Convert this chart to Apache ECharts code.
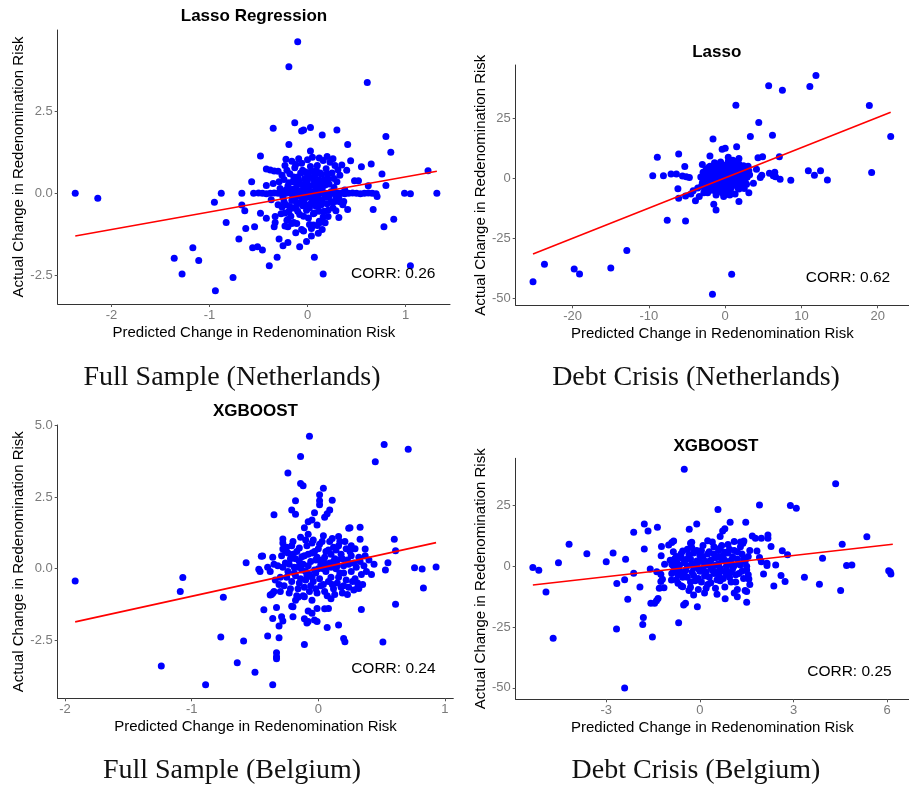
<!DOCTYPE html>
<html>
<head>
<meta charset="utf-8">
<script src="https://cdn.jsdelivr.net/npm/echarts@6/dist/echarts.min.js"></script>
<style>
  html, body { margin: 0; padding: 0; background: #ffffff; }
  #chart { width: 909px; height: 791px; }
</style>
</head>
<body>
<div id="chart"></div>
<script>
// ---------- Netherlands, full sample (Lasso Regression) ----------
const nlFullPoints = [
  [-2.37,0.00],[-2.14,-0.15],[-0.10,4.62],[-0.19,3.86],[0.61,3.38],[-0.13,2.15],[-0.35,1.98],[-0.06,1.90],
  [-0.04,1.93],[0.03,2.01],[0.15,1.78],[0.30,1.93],[0.80,1.73],[-0.19,1.49],[0.03,1.29],[0.41,1.49],
  [0.85,1.25],[-0.48,1.14],[-0.22,1.04],[0.44,0.99],[0.65,0.89],[0.55,0.81],[0.35,0.86],[-0.42,0.74],
  [-0.38,0.71],[-0.34,0.68],[-0.30,0.67],[1.23,0.69],[0.76,0.59],[-0.57,0.35],[-0.42,0.24],[0.48,0.38],
  [0.52,0.38],[0.80,0.24],[0.62,0.23],[-0.88,0.00],[-0.67,0.00],[0.99,0.00],[1.05,-0.01],[1.32,0.00],
  [-0.95,-0.27],[-0.67,-0.36],[-0.64,-0.53],[-0.48,-0.61],[-0.83,-0.89],[-0.63,-1.07],[-0.54,-1.02],[-0.70,-1.39],
  [-0.56,-1.66],[-0.51,-1.63],[-0.46,-1.73],[-1.17,-1.66],[-1.36,-1.98],[-1.11,-2.05],[-1.28,-2.46],[-0.94,-2.97],
  [-0.76,-2.57],[-0.39,-2.21],[-0.31,-1.95],[-0.29,-1.39],[-0.25,-1.60],[-0.20,-1.50],[-0.08,-1.63],[-0.01,-1.47],
  [0.04,-1.30],[0.11,-1.22],[0.15,-1.10],[0.07,-1.95],[0.16,-2.46],[1.05,-2.21],[0.78,-1.02],[0.88,-0.79],
  [0.67,-0.49],[0.41,-0.49],[0.32,-0.74],[0.21,-0.71],[0.29,-0.53],[-0.33,-0.71],[-0.33,-0.89],[-0.34,-1.02],
  [-0.42,-0.76],[-0.20,-0.80],[-0.14,-0.89],[-0.20,-1.02],[-0.12,-1.20],[-0.06,-1.10],[-0.04,-1.15],[0.71,-0.10],
  [-0.16,-0.92],[-0.23,-1.00],[0.04,-1.07],[0.06,-0.97],[0.13,-0.89],
  // observations with no change
  [-0.55,0.00],[-0.50,0.01],[-0.46,0.00],[-0.42,-0.01],[-0.38,0.00],[-0.34,0.01],[-0.30,0.00],[-0.26,-0.01],
  [-0.22,0.00],[-0.18,0.01],[-0.14,0.00],[-0.10,-0.01],[-0.06,0.00],[-0.02,0.01],[0.02,0.00],[0.06,-0.01],
  [0.10,0.00],[0.14,0.01],[0.18,0.00],[0.22,-0.01],[0.26,0.00],[0.30,0.01],[0.34,0.00],[0.38,-0.01],
  [0.42,0.00],[0.46,0.01],[0.50,0.00],[0.54,-0.01],[0.58,0.00],[0.62,0.01],[0.66,0.00],[0.70,-0.01],
  [0.24,-0.25],[0.28,-0.25],[0.33,-0.26],[0.37,-0.25],
  // central cloud
  [-0.28,0.15],[-0.25,-0.12],[-0.24,0.42],[-0.22,-0.35],[-0.20,0.22],[-0.19,-0.55],[-0.18,0.60],[-0.17,0.05],
  [-0.16,-0.22],[-0.15,0.35],[-0.14,-0.45],[-0.13,0.78],[-0.12,0.12],[-0.11,-0.30],[-0.10,0.50],[-0.09,-0.08],
  [-0.08,-0.65],[-0.07,0.28],[-0.06,0.92],[-0.05,-0.38],[-0.04,0.15],[-0.03,-0.18],[-0.02,0.65],[-0.01,-0.52],
  [0.00,0.38],[0.00,-0.05],[0.01,-0.75],[0.02,0.22],[0.03,0.82],[0.04,-0.28],[0.05,0.48],[0.06,-0.12],
  [0.07,-0.60],[0.08,0.10],[0.09,0.70],[0.10,-0.40],[0.11,0.32],[0.12,-0.85],[0.13,0.05],[0.14,0.58],
  [0.15,-0.20],[0.16,1.00],[0.17,-0.55],[0.18,0.25],[0.19,0.75],[0.20,-0.32],[0.21,0.45],[0.22,-0.08],
  [0.23,0.95],[0.25,0.62],[0.26,-0.45],[0.27,0.18],[0.28,0.85],[0.30,0.35],[0.32,-0.15],[0.33,0.55],
  [-0.27,-0.62],[-0.23,0.85],[-0.16,0.98],[-0.09,1.05],[0.00,1.02],[0.05,1.10],[0.12,1.08],[0.20,1.12],
  [0.26,1.05],[-0.30,-0.35],[-0.26,0.55],[-0.21,-0.82],[-0.11,-0.92],[0.02,-0.95],[0.10,-0.98],[0.18,-0.90],
  [-0.35,0.30],[-0.37,-0.20],[0.38,0.10],[0.40,0.70],[0.36,-0.35],[-0.05,0.70],[0.08,0.55],[-0.15,-0.10],
  [0.18,-0.05],[0.12,0.40],[-0.02,0.30],[0.06,0.25],
  [-0.24,-0.25],[-0.22,0.10],[-0.21,0.70],[-0.19,0.32],[-0.18,-0.40],[-0.17,-0.70],[-0.15,0.12],[-0.14,0.50],
  [-0.13,-0.20],[-0.12,0.88],[-0.11,0.25],[-0.10,-0.55],[-0.09,0.38],[-0.08,-0.30],[-0.07,0.62],[-0.06,-0.15],
  [-0.05,0.05],[-0.04,-0.70],[-0.03,0.45],[-0.02,-0.35],[-0.01,0.12],[0.01,0.55],[0.02,-0.45],[0.03,0.05],
  [0.04,0.68],[0.05,-0.20],[0.06,-0.62],[0.07,0.38],[0.08,-0.38],[0.09,0.15],[0.10,0.85],[0.11,-0.15],
  [0.12,-0.55],[0.13,0.62],[0.14,-0.35],[0.15,0.15],[0.16,-0.72],[0.17,0.42],[0.19,-0.12],[0.20,0.60],
  [0.21,-0.52],[0.22,0.28],[0.24,0.05],[0.25,-0.28],[0.27,0.45],[0.29,-0.10],[0.31,0.72],[-0.29,0.35],
  [-0.26,-0.42],[-0.23,-0.60],[0.00,0.18],[0.03,-0.12],[-0.07,0.08],[0.09,-0.22],[0.14,0.25],[-0.12,-0.45]
];
const nlFullFit = [[-2.37,-1.30],[1.32,0.67]];
const nlFullXTicks = [-2, -1, 0, 1];
const nlFullYTicks = [-2.5, 0, 2.5];

// ---------- Netherlands, debt crisis (Lasso) ----------
const nlCrisisPoints = [
  [-25.2,-43.1],[-23.7,-35.8],[-19.8,-37.8],[-19.1,-39.9],[-15.0,-37.4],[-12.9,-30.1],[0.85,-40.0],[-1.67,-48.3],
  [-7.6,-17.5],[-5.2,-17.8],[11.9,42.8],[11.1,38.2],[5.7,38.6],[7.5,36.7],[1.4,30.4],[18.9,30.3],
  [21.7,17.4],[19.2,2.4],[4.4,23.2],[6.2,17.9],[3.3,17.4],[-1.6,16.4],[1.5,13.1],[-0.4,12.1],
  [0.0,12.5],[-6.1,10.1],[-8.9,8.8],[-2.0,9.3],[-1.4,6.5],[-3.0,5.8],[-5.3,4.9],[1.8,8.3],
  [4.3,8.6],[4.9,9.0],[7.1,9.0],[-9.5,1.1],[-8.1,1.1],[-7.1,1.8],[-6.4,1.8],[-5.6,1.0],
  [-4.7,0.3],[-6.2,-4.4],[-6.1,-8.3],[-5.2,-7.4],[-3.9,-9.3],[-3.4,-7.6],[-1.5,-10.8],[-1.2,-13.2],
  [1.8,-9.7],[-0.2,-7.6],[2.5,-4.2],[3.1,-6.0],[3.7,-2.1],[4.6,0.3],[4.8,1.25],[5.8,2.1],
  [6.3,1.1],[6.5,2.5],[6.6,0.7],[7.2,-0.4],[8.6,-0.8],[10.9,3.2],[11.7,1.25],[12.5,3.2],
  [13.4,-0.7],[4.1,3.75],[3.0,2.1],[-5.1,0.7],[-4.5,-6.5],[-4.2,-5.2],[-3.6,-4.0],[-2.8,-6.0],
  [-2.5,-3.5],[0.4,8.8],
  // central cloud
  [-3.2,0.5],[-3.0,-2.0],[-2.9,2.5],[-2.7,-4.5],[-2.6,0.0],[-2.5,3.8],[-2.4,-1.2],[-2.3,-6.0],
  [-2.2,1.5],[-2.1,-3.0],[-2.0,5.0],[-1.9,-0.5],[-1.8,2.8],[-1.7,-5.0],[-1.6,-1.8],[-1.5,0.8],
  [-1.4,4.0],[-1.3,-3.5],[-1.2,-7.0],[-1.1,1.8],[-1.0,-0.8],[-0.9,3.2],[-0.8,-2.5],[-0.7,6.2],
  [-0.6,-4.8],[-0.5,0.4],[-0.4,2.2],[-0.3,-1.5],[-0.2,4.5],[-0.1,-3.0],[0.0,1.0],[0.1,-5.5],
  [0.2,3.0],[0.3,-0.5],[0.4,7.0],[0.5,-2.0],[0.6,1.8],[0.7,4.2],[0.8,-3.8],[0.9,0.5],
  [1.0,2.5],[1.1,-1.2],[1.2,5.5],[1.3,-6.5],[1.4,1.2],[1.5,3.5],[1.6,-2.8],[1.7,0.2],
  [1.8,6.0],[1.9,-0.8],[2.0,2.0],[2.2,4.0],[2.3,-1.5],[2.5,0.8],[2.6,3.0],[2.8,-2.5],
  [3.0,5.0],[3.2,1.5],[-2.8,-0.8],[-1.2,2.2],[-0.4,-6.0],[0.6,-7.0],[1.0,7.5],[-0.9,0.2],
  [0.2,-1.8],[-1.6,1.0],[1.8,-4.5],[-0.2,1.8],[0.9,-1.0],[-2.2,-1.8],[2.7,1.8],
  [-2.9,-1.0],[-2.6,1.8],[-2.4,-3.8],[-2.1,0.6],[-1.9,3.5],[-1.8,-2.2],[-1.5,-4.2],[-1.4,2.6],
  [-1.3,-0.2],[-1.1,4.8],[-1.0,-2.0],[-0.9,-5.2],[-0.8,1.2],[-0.7,-1.0],[-0.6,3.6],[-0.5,-3.2],
  [-0.4,0.5],[-0.3,5.5],[-0.2,-0.8],[-0.1,2.8],[0.0,-2.2],[0.1,0.2],[0.2,5.0],[0.3,-3.8],
  [0.4,1.5],[0.5,3.8],[0.6,-1.0],[0.7,-4.5],[0.8,2.2],[0.9,6.0],[1.0,-0.2],[1.1,3.2],
  [1.2,-2.8],[1.3,1.5],[1.4,4.5],[1.5,-1.0],[1.6,2.4],[1.7,-4.0],[1.9,1.0],[2.1,-0.5],
  [2.2,2.8],[2.4,5.2],[2.6,-1.2],[2.9,0.5],[3.1,3.2],[-3.1,-3.2],[-2.2,4.5],[0.4,-6.5],
  [-0.6,6.8],[1.4,7.0],[2.0,-3.2],[-1.0,1.2],[0.2,1.8],[0.8,0.0],[-0.2,-4.5],[1.2,0.8]
];
const nlCrisisFit = [[-25.2,-31.5],[21.7,27.5]];
const nlCrisisXTicks = [-20, -10, 0, 10, 20];
const nlCrisisYTicks = [-50, -25, 0, 25];

// ---------- Belgium, full sample (XGBOOST) ----------
const beFullPoints = [
  [-1.92,-0.43],[-1.07,-0.31],[-1.09,-0.80],[-0.75,-1.00],[-1.24,-3.40],[-0.89,-4.06],[-0.64,-3.29],[-0.50,-3.62],
  [-0.36,-4.06],[-0.77,-2.39],[-0.59,-2.53],[-0.40,-2.35],[-0.31,-2.41],[-0.33,-2.94],[-0.33,-3.08],[-0.33,-3.15],
  [-0.57,0.21],[-0.45,0.43],[-0.07,4.63],[-0.14,3.92],[-0.24,3.34],[-0.14,2.98],[-0.12,2.90],[0.04,2.81],
  [0.01,2.58],[0.01,2.37],[0.01,2.23],[0.11,2.39],[-0.18,2.37],[-0.35,1.88],[-0.21,2.05],[-0.18,1.90],
  [0.45,3.74],[0.52,4.34],[0.71,4.17],[0.25,1.43],[0.33,1.45],[0.33,1.03],[0.37,0.69],[0.60,1.03],
  [0.61,0.63],[0.55,0.21],[0.53,-0.05],[0.76,0.03],[0.82,-0.01],[0.93,0.06],[0.83,-0.68],[0.61,-1.24],
  [0.51,-2.56],[0.32,-0.69],[0.31,-0.67],[0.34,-1.43],[0.16,-1.97],[0.20,-2.44],[0.21,-2.55],[0.07,-2.06],
  [-0.11,-2.65],[0.08,-1.39],[0.05,-1.40],[-0.03,-1.79],[-0.05,-1.56],[-0.08,-1.48],[-0.11,-1.75],[-0.09,-1.90],
  [-0.20,-1.68],[-0.20,-1.33],[-0.28,-1.83],[-0.31,-2.00],[-0.33,-1.36],[-0.43,-1.44],[-0.37,-0.90],[-0.35,-0.80],
  [-0.28,1.04],[-0.28,0.69],[-0.08,1.64],[-0.05,1.70],[-0.11,1.43],[0.05,1.80],[0.09,2.05],[0.07,1.92],
  [-0.03,1.95],[-0.01,1.53],[0.24,1.41],[-0.47,-0.02],[-0.46,-0.10],[-0.44,0.44],[-0.36,-0.86],[-0.38,-0.92],
  [-0.36,-1.74],[-0.29,-1.68],[-0.01,-1.39],[-0.01,-1.85],[-0.08,-1.85],[-0.21,-1.31],[-0.18,-1.10],[-0.11,-0.98],
  // central cloud
  [-0.32,0.10],[-0.30,-0.30],[-0.29,0.45],[-0.27,-0.60],[-0.26,0.20],[-0.25,0.75],[-0.24,-0.10],[-0.23,-0.85],
  [-0.22,0.35],[-0.21,-0.45],[-0.20,0.95],[-0.19,0.05],[-0.18,-0.25],[-0.17,0.60],[-0.16,-0.70],[-0.15,0.25],
  [-0.14,1.10],[-0.13,-0.05],[-0.12,-0.95],[-0.11,0.45],[-0.10,-0.40],[-0.09,0.80],[-0.08,0.10],[-0.07,-0.20],
  [-0.06,-0.60],[-0.05,0.55],[-0.04,1.00],[-0.03,-0.05],[-0.02,0.30],[-0.01,-0.85],[0.00,0.70],[0.01,-0.35],
  [0.02,0.15],[0.03,0.95],[0.04,-0.55],[0.05,0.40],[0.06,-0.10],[0.07,-0.95],[0.08,0.65],[0.09,0.20],
  [0.10,-0.30],[0.11,1.05],[0.12,-0.70],[0.13,0.35],[0.14,0.00],[0.15,-0.50],[0.16,0.80],[0.17,-0.15],
  [0.18,0.50],[0.19,-0.85],[0.20,0.10],[0.21,0.95],[0.22,-0.40],[0.23,0.30],[0.24,-0.65],[0.25,0.60],
  [0.26,-0.10],[0.28,0.20],[0.29,-0.35],[0.30,0.05],[0.32,0.40],[0.34,-0.20],[0.36,0.10],[0.38,-0.10],
  [0.40,0.30],[-0.35,0.15],[-0.38,-0.10],[-0.40,0.05],[-0.20,0.50],[0.00,0.00],[0.05,0.20],[-0.10,-0.10],
  [0.10,0.50],[-0.05,-0.30],[0.15,0.30],[-0.15,-0.50],[0.20,-0.60],[0.12,0.75],[-0.02,-0.70],[-0.24,0.55],
  [0.26,0.80],[0.28,-0.75],[-0.30,-0.80],[-0.28,0.90],[0.04,1.15],[-0.08,1.20],[0.16,1.12],[-0.16,-1.00],
  [0.10,-1.05],[-0.05,-1.10],
  [-0.31,-0.55],[-0.28,0.05],[-0.26,0.62],[-0.25,-0.30],[-0.23,0.15],[-0.22,-0.70],[-0.21,0.80],[-0.19,-0.15],
  [-0.18,0.35],[-0.17,-0.95],[-0.16,0.05],[-0.15,0.72],[-0.14,-0.35],[-0.13,0.42],[-0.12,0.15],[-0.11,-0.65],
  [-0.10,1.00],[-0.09,-0.25],[-0.08,0.50],[-0.07,-0.80],[-0.06,0.25],[-0.05,0.90],[-0.04,-0.45],[-0.03,0.60],
  [-0.02,-0.15],[-0.01,0.40],[0.01,0.85],[0.02,-0.60],[0.03,0.30],[0.04,0.00],[0.05,-0.80],[0.06,0.60],
  [0.07,0.10],[0.08,-0.45],[0.09,0.95],[0.10,0.05],[0.11,-0.55],[0.12,0.25],[0.13,-0.90],[0.14,0.65],
  [0.15,0.10],[0.16,-0.30],[0.17,0.95],[0.18,-0.65],[0.19,0.35],[0.20,-0.15],[0.22,0.70],[0.23,-0.90],
  [0.24,0.15],[0.26,0.45],[0.27,-0.45],[0.29,0.70],[0.31,-0.50],[0.33,0.25],[0.35,-0.55],[0.37,0.45],
  [-0.34,-0.40],[-0.36,0.40],[0.42,-0.20],[0.44,0.15]
];
const beFullFit = [[-1.92,-1.86],[0.93,0.91]];
const beFullXTicks = [-2, -1, 0, 1];
const beFullYTicks = [-2.5, 0, 2.5, 5];

// ---------- Belgium, debt crisis (XGBOOST) ----------
const beCrisisPoints = [
  [-5.35,-0.5],[-5.16,-1.6],[-4.93,-10.6],[-4.70,-29.6],[-4.53,1.4],[-4.19,9.1],[-3.62,5.2],[-3.00,1.9],
  [-2.78,5.5],[-2.66,-7.1],[-2.67,-25.8],[-2.41,-50.1],[-2.41,-5.5],[-2.38,2.9],[-2.31,-13.6],[-2.12,14.0],
  [-2.12,-2.9],[-1.92,-8.5],[-1.81,-21.1],[-1.83,-23.9],[-1.78,17.4],[-1.78,7.1],[-1.66,14.5],[-1.59,-1.1],
  [-1.57,-15.2],[-1.45,-15.2],[-1.39,-14.2],[-1.34,-13.2],[-1.52,-29.1],[-1.36,16.0],[-1.38,-2.2],[-1.30,-9.0],
  [-1.25,-6.3],[-1.20,-5.3],[-1.25,-3.3],[-1.15,-8.8],[-1.24,4.3],[-1.13,0.8],[-1.00,8.8],[-0.90,9.8],
  [-0.84,10.4],[-0.91,-5.6],[-0.87,0.5],[-0.84,1.6],[-0.73,1.5],[-0.68,-23.2],[-0.55,6.3],[-0.50,39.9],
  [-0.52,-15.9],[-0.46,-15.2],[-0.55,-8.4],[-0.34,15.2],[-0.10,17.4],[-0.26,9.9],[-0.26,7.7],[-0.30,-8.6],
  [-0.20,-11.8],[-0.08,-16.6],[0.58,23.3],[0.65,12.2],[0.73,14.5],[0.80,15.4],[0.97,18.1],[0.81,-13.4],
  [1.10,10.2],[1.30,10.0],[1.38,9.5],[1.41,10.4],[1.20,-12.5],[1.47,18.1],[1.50,-10.4],[1.50,-14.8],
  [1.57,-5.2],[1.68,12.5],[1.78,11.5],[1.83,6.3],[1.91,25.2],[1.97,11.5],[1.91,3.6],[1.97,1.9],
  [2.04,-3.2],[2.15,0.3],[2.18,12.9],[2.18,11.5],[2.28,8.1],[2.37,-8.1],[2.43,0.5],[2.60,-3.8],
  [2.64,6.4],[2.73,-6.3],[2.81,4.7],[2.90,25.0],[3.09,23.9],[3.35,-4.5],[3.83,-7.4],[3.93,3.3],
  [4.35,33.9],[4.51,-10.0],[4.56,9.1],[4.70,0.3],[4.87,0.5],[5.35,12.1],[6.05,-1.8],[6.10,-2.4],
  [6.12,-3.2],[-1.23,8.1],[2.15,1.2],
  // central cloud
  [-0.95,2.5],[-0.90,-3.0],[-0.85,6.0],[-0.80,-1.0],[-0.75,4.0],[-0.70,-7.0],[-0.65,0.5],[-0.60,3.5],
  [-0.55,-4.5],[-0.50,1.5],[-0.45,-1.5],[-0.40,7.0],[-0.35,-10.0],[-0.30,3.0],[-0.25,-2.5],[-0.20,5.5],
  [-0.15,-6.0],[-0.10,0.0],[-0.05,-9.5],[0.00,4.5],[0.05,-1.5],[0.10,8.5],[0.15,-4.0],[0.20,2.0],
  [0.25,-7.5],[0.30,6.0],[0.35,-0.5],[0.40,10.0],[0.45,-3.0],[0.50,3.5],[0.55,-5.5],[0.60,1.0],
  [0.65,7.5],[0.70,-2.0],[0.75,4.5],[0.80,-8.5],[0.85,0.0],[0.90,9.0],[0.95,-4.5],[1.00,2.5],
  [1.05,-1.0],[1.10,6.5],[1.15,-6.5],[1.20,3.0],[1.25,-3.0],[1.30,0.5],[1.35,5.0],[1.40,-5.0],
  [1.45,2.0],[1.50,-1.5],[1.55,4.0],[1.60,-7.5],[-0.20,-0.5],[0.00,-2.0],[0.20,0.5],[0.40,-1.5],
  [0.60,4.0],[0.80,2.5],[1.00,-2.5],[0.30,1.2],[0.10,-0.8],[-0.40,-4.5],[-0.10,2.2],[0.50,-9.0],
  [0.70,8.5],[1.20,-9.5],[-0.60,-8.0],[0.90,5.5],[0.25,10.5],[-0.30,9.5],[0.15,-11.0],[0.55,-11.5],
  [1.10,-11.0],[-0.75,-5.5],[1.30,8.0],[-0.85,-2.0],[0.05,6.5],[0.45,5.0],[0.65,-6.0],[1.45,-10.0],
  [-0.45,2.8],[0.35,-6.8],[0.85,-1.8],[-0.05,-5.0],[1.00,0.8],[0.60,-3.8],
  [-0.90,0.8],[-0.80,3.2],[-0.70,-3.5],[-0.60,5.2],[-0.50,-2.8],[-0.40,0.2],[-0.35,4.8],[-0.25,1.0],
  [-0.20,-3.8],[-0.10,6.5],[-0.05,-1.0],[0.00,2.0],[0.05,-6.5],[0.10,4.0],[0.15,1.2],[0.20,-2.5],
  [0.25,5.0],[0.30,-4.5],[0.35,2.5],[0.40,-0.5],[0.45,8.0],[0.50,0.5],[0.55,-2.2],[0.60,6.5],
  [0.65,-0.8],[0.70,3.0],[0.75,-5.0],[0.80,5.8],[0.85,-3.2],[0.90,1.5],[0.95,7.0],[1.00,-6.5],
  [1.05,3.8],[1.10,0.2],[1.15,-3.5],[1.20,6.0],[1.25,1.0],[1.35,-2.0],[1.40,3.0],[1.50,0.0],
  [1.55,-3.5],[-0.65,-1.8],[-0.30,-6.5],[0.20,-9.0],[1.60,6.5]
];
const beCrisisFit = [[-5.35,-7.7],[6.18,9.05]];
const beCrisisXTicks = [-3, 0, 3, 6];
const beCrisisYTicks = [-50, -25, 0, 25];

// ---------- text ----------
const panelTitles = ['Lasso Regression', 'Lasso', 'XGBOOST', 'XGBOOST'];
const panelCaptions = ['Full Sample (Netherlands)', 'Debt Crisis (Netherlands)', 'Full Sample (Belgium)', 'Debt Crisis (Belgium)'];
const corrTexts = ['CORR: 0.26', 'CORR: 0.62', 'CORR: 0.24', 'CORR: 0.25'];
const xAxisTitle = 'Predicted Change in Redenomination Risk';
const yAxisTitle = 'Actual Change in Redenomination Risk';

// ---------- layout of the four panels ----------
const panels = [
  { points: nlFullPoints, fit: nlFullFit, xTicks: nlFullXTicks, yTicks: nlFullYTicks,
    grid: { left: 57.7, top: 30, width: 392.3, height: 274 },
    xRange: [-2.549, 1.454], yRange: [-3.375, 4.979], yDigits: 1, yNameGap: 30,
    corrAt: [1.31, -2.44], titleAt: [254, 16], captionAt: [232, 378] },
  { points: nlCrisisPoints, fit: nlCrisisFit, xTicks: nlCrisisXTicks, yTicks: nlCrisisYTicks,
    grid: { left: 515.7, top: 65, width: 402.3, height: 240.3 },
    xRange: [-27.47, 24.1], yRange: [-52.9, 47.2], yDigits: 0, yNameGap: 25.5,
    corrAt: [21.7, -41.4], titleAt: [716.8, 52], captionAt: [696, 378] },
  { points: beFullPoints, fit: beFullFit, xTicks: beFullXTicks, yTicks: beFullYTicks,
    grid: { left: 57.7, top: 425, width: 395.6, height: 273.3 },
    xRange: [-2.058, 1.066], yRange: [-4.53, 5.02], yDigits: 1, yNameGap: 30,
    corrAt: [0.93, -3.48], titleAt: [255.5, 411], captionAt: [232, 771] },
  { points: beCrisisPoints, fit: beCrisisFit, xTicks: beCrisisXTicks, yTicks: beCrisisYTicks,
    grid: { left: 515.7, top: 458.3, width: 400.7, height: 241 },
    xRange: [-5.90, 6.70], yRange: [-54.7, 44.4], yDigits: 0, yNameGap: 25.5,
    corrAt: [6.16, -43.4], titleAt: [716, 446], captionAt: [696, 771] }
];

const SANS = '"Liberation Sans", Arial, Helvetica, sans-serif';
const SERIF = '"Liberation Serif", "Times New Roman", serif';
const AXIS_LINE = '#333333';
const TICK_TEXT = '#7a7a7a';

function axisCommon(ticks, digits) {
  return {
    type: 'value',
    scale: true,
    splitLine: { show: false },
    axisLine: { show: true, onZero: false, lineStyle: { color: AXIS_LINE, width: 1 } },
    axisTick: { show: true, length: 3, inside: false, lineStyle: { color: '#555555', width: 1 }, customValues: ticks },
    axisLabel: {
      show: true, color: TICK_TEXT, fontFamily: SANS, fontSize: 13, margin: 5,
      customValues: ticks,
      formatter: v => Number(v).toFixed(digits)
    },
    nameTextStyle: { color: '#000000', fontFamily: SANS, fontSize: 15 }
  };
}

const grids = [], xAxes = [], yAxes = [], series = [], graphics = [];

panels.forEach((p, i) => {
  grids.push(Object.assign({ containLabel: false }, p.grid));

  xAxes.push(Object.assign(axisCommon(p.xTicks, 0), {
    gridIndex: i, min: p.xRange[0], max: p.xRange[1],
    name: xAxisTitle, nameLocation: 'middle', nameGap: 21
  }));
  yAxes.push(Object.assign(axisCommon(p.yTicks, p.yDigits), {
    gridIndex: i, min: p.yRange[0], max: p.yRange[1],
    name: yAxisTitle, nameLocation: 'middle', nameGap: p.yNameGap, nameRotate: 90
  }));

  series.push({
    type: 'scatter', xAxisIndex: i, yAxisIndex: i,
    data: p.points, symbol: 'circle', symbolSize: 7,
    itemStyle: { color: '#0000FF', opacity: 1 },
    emphasis: { disabled: true }, z: 2
  });
  series.push({
    type: 'line', xAxisIndex: i, yAxisIndex: i,
    data: p.fit, showSymbol: false, symbol: 'none',
    lineStyle: { color: '#FF0000', width: 1.6 },
    emphasis: { disabled: true }, z: 3
  });
  series.push({
    type: 'scatter', xAxisIndex: i, yAxisIndex: i,
    data: [p.corrAt], symbolSize: 1,
    itemStyle: { color: 'rgba(0,0,0,0)', opacity: 1 },
    label: {
      show: true, position: 'left', distance: 0, formatter: corrTexts[i], opacity: 1,
      color: '#000000', fontFamily: SANS, fontSize: 15.5, align: 'right', verticalAlign: 'middle'
    },
    emphasis: { disabled: true }, silent: true, z: 4
  });

  graphics.push({
    type: 'text', x: p.titleAt[0], y: p.titleAt[1], silent: true,
    style: { text: panelTitles[i], font: 'bold 17px ' + SANS, fill: '#000000', align: 'center', verticalAlign: 'middle' }
  });
  graphics.push({
    type: 'text', x: p.captionAt[0], y: p.captionAt[1], silent: true,
    style: { text: panelCaptions[i], font: '28px ' + SERIF, fill: '#111111', align: 'center', verticalAlign: 'middle' }
  });
});

const chart = echarts.init(document.getElementById('chart'), null, { renderer: 'canvas' });
chart.setOption({
  animation: false,
  backgroundColor: '#ffffff',
  grid: grids,
  xAxis: xAxes,
  yAxis: yAxes,
  series: series,
  graphic: graphics
});
</script>
</body>
</html>
